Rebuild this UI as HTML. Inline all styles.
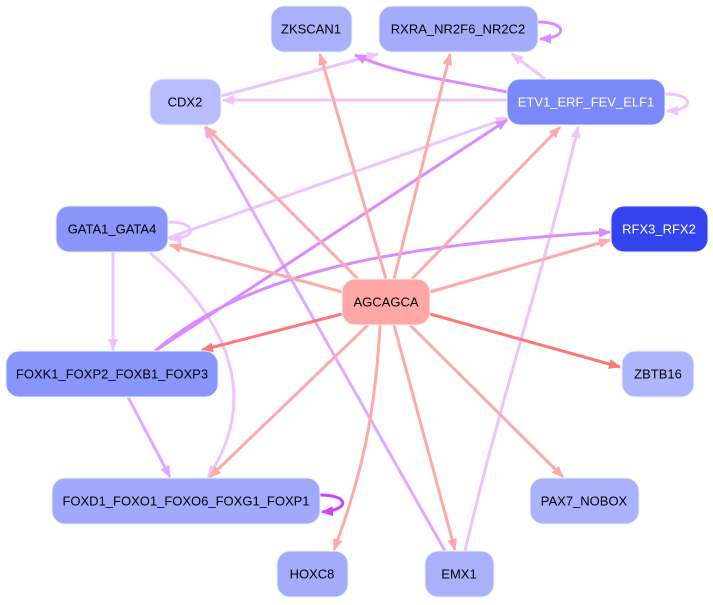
<!DOCTYPE html>
<html><head><meta charset="utf-8"><style>
html,body{margin:0;padding:0;background:#fff;width:713px;height:605px;overflow:hidden}
text{font-family:"Liberation Sans",sans-serif;font-size:13px;text-anchor:middle;dominant-baseline:central}
</style></head><body>
<svg width="713" height="605" viewBox="0 0 713 605" xmlns="http://www.w3.org/2000/svg">
<defs>
<marker id="pk" markerUnits="userSpaceOnUse" markerWidth="12" markerHeight="10" refX="11" refY="5" orient="auto"><path d="M0,0 L12,5 L0,10 z" fill="#ffaaaa"/></marker>
<marker id="rd" markerUnits="userSpaceOnUse" markerWidth="12" markerHeight="10" refX="11" refY="5" orient="auto"><path d="M0,0 L12,5 L0,10 z" fill="#ff7777"/></marker>
<marker id="lp" markerUnits="userSpaceOnUse" markerWidth="12" markerHeight="10" refX="11" refY="5" orient="auto"><path d="M0,0 L12,5 L0,10 z" fill="#eec4ff"/></marker>
<marker id="mp" markerUnits="userSpaceOnUse" markerWidth="12" markerHeight="10" refX="11" refY="5" orient="auto"><path d="M0,0 L12,5 L0,10 z" fill="#e0aaff"/></marker>
<marker id="sp" markerUnits="userSpaceOnUse" markerWidth="12" markerHeight="10" refX="11" refY="5" orient="auto"><path d="M0,0 L12,5 L0,10 z" fill="#d98bff"/></marker>
<marker id="dp" markerUnits="userSpaceOnUse" markerWidth="12" markerHeight="10" refX="11" refY="5" orient="auto"><path d="M0,0 L12,5 L0,10 z" fill="#c844ff"/></marker>
</defs>
<g fill="none" stroke-width="3">
<!-- light purple -->
<path d="M545,79 L512,54" stroke="#eec4ff" marker-end="url(#lp)"/>
<path d="M221,96 L378,54" stroke="#eec4ff" marker-end="url(#lp)"/>
<path d="M507,100 L223,100" stroke="#eec4ff" marker-end="url(#lp)"/>
<path d="M168,238 L507,118" stroke="#eec4ff" marker-end="url(#lp)"/>
<path d="M113,252 L113,350" stroke="#eec4ff" marker-end="url(#lp)"/>
<path d="M150,253 C230,320 260,400 208,477" stroke="#eec4ff" marker-end="url(#lp)"/>
<path d="M465,551 C500,400 550,250 578,127" stroke="#eec4ff" marker-end="url(#lp)"/>
<path d="M665,94 C695,94 695,110 667,111" stroke="#eec4ff" marker-end="url(#lp)"/>
<path d="M168,222 C198,222 198,238 170,239" stroke="#eec4ff" marker-end="url(#lp)"/>
<path d="M445,551 L205,127" stroke="#e0aaff" marker-end="url(#mp)"/>
<path d="M128,397 L170,477" stroke="#e0aaff" marker-end="url(#mp)"/>
<!-- strong purple -->
<path d="M507,92 C450,80 400,75 355,55" stroke="#d98bff" marker-end="url(#sp)"/>
<path d="M155,351 L507,120" stroke="#d98bff" marker-end="url(#sp)"/>
<path d="M155,351 C250,270 400,245 610,232" stroke="#d98bff" marker-end="url(#sp)"/>
<path d="M538,22 C568,22 568,38 540,39" stroke="#d98bff" marker-end="url(#sp)"/>
<path d="M320,495 C350,495 350,510 322,512" stroke="#c844ff" marker-end="url(#dp)"/>
<!-- pink from AGCAGCA -->
<path d="M386,279 L320,54" stroke="#ffaaaa" marker-end="url(#pk)"/>
<path d="M394,279 L450,54" stroke="#ffaaaa" marker-end="url(#pk)"/>
<path d="M360,281 L206,127" stroke="#ffaaaa" marker-end="url(#pk)"/>
<path d="M410,281 L560,127" stroke="#ffaaaa" marker-end="url(#pk)"/>
<path d="M342,292 L170,245" stroke="#ffaaaa" marker-end="url(#pk)"/>
<path d="M430,292 L610,240" stroke="#ffaaaa" marker-end="url(#pk)"/>
<path d="M368,325 L210,477" stroke="#ffaaaa" marker-end="url(#pk)"/>
<path d="M410,325 L563,477" stroke="#ffaaaa" marker-end="url(#pk)"/>
<path d="M380,325 C375,420 360,480 334,550" stroke="#ffaaaa" marker-end="url(#pk)"/>
<path d="M394,325 L455,550" stroke="#ffaaaa" marker-end="url(#pk)"/>
<path d="M342,314 L202,350" stroke="#ff7777" marker-end="url(#rd)"/>
<path d="M430,314 L620,367" stroke="#ff7777" marker-end="url(#rd)"/>
</g>
<g stroke="#eef0ff" stroke-width="1">
<rect x="271" y="6" width="81" height="46" rx="13" fill="#a9b1fb"/>
<rect x="379" y="6" width="159" height="46" rx="13" fill="#a3acfb"/>
<rect x="150" y="79" width="71" height="46" rx="13" fill="#b8befd"/>
<rect x="507" y="79" width="158" height="46" rx="13" fill="#7b89f8"/>
<rect x="56" y="206" width="112" height="46" rx="13" fill="#8a96f9"/>
<rect x="611" y="206" width="97" height="46" rx="13" fill="#3344ee"/>
<rect x="342" y="279" width="88" height="46" rx="13" fill="#ffa6a6" stroke="#fff0f0"/>
<rect x="6" y="351" width="212" height="46" rx="13" fill="#8895fb"/>
<rect x="622" y="351" width="72" height="46" rx="13" fill="#adb5fc"/>
<rect x="52" y="478" width="268" height="46" rx="13" fill="#a0aafb"/>
<rect x="530" y="478" width="109" height="46" rx="13" fill="#aab2fb"/>
<rect x="277" y="551" width="71" height="46" rx="13" fill="#a3acfb"/>
<rect x="425" y="551" width="69" height="46" rx="13" fill="#a9b1fa"/>
</g>
<text x="311" y="29">ZKSCAN1</text>
<text x="458" y="29">RXRA_NR2F6_NR2C2</text>
<text x="185" y="102">CDX2</text>
<text x="586" y="102" fill="#fff">ETV1_ERF_FEV_ELF1</text>
<text x="112" y="229">GATA1_GATA4</text>
<text x="659" y="229" fill="#fff">RFX3_RFX2</text>
<text x="386" y="302">AGCAGCA</text>
<text x="112" y="374">FOXK1_FOXP2_FOXB1_FOXP3</text>
<text x="658" y="374">ZBTB16</text>
<text x="186" y="501">FOXD1_FOXO1_FOXO6_FOXG1_FOXP1</text>
<text x="584" y="501">PAX7_NOBOX</text>
<text x="312" y="574">HOXC8</text>
<text x="459" y="574">EMX1</text>
</svg>
</body></html>
